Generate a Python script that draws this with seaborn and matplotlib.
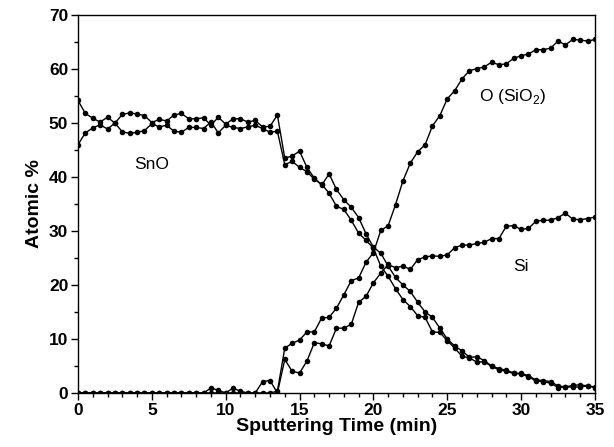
import numpy as np
import pandas as pd
import matplotlib
matplotlib.use('Agg')
import matplotlib.pyplot as plt
from matplotlib.ticker import MultipleLocator
import seaborn as sns

# sampling time (min), one point every 0.5 min
time = np.arange(0, 35.5, 0.5)

# Sn and O of the SnO layer (two curves crossing around 50 %)
sn_sno = [54.2, 51.8, 50.9, 50.2, 51.1, 50.0, 51.6, 51.9, 51.7, 51.4,
          50.1, 50.7, 50.4, 51.5, 51.8, 50.8, 50.8, 51.0, 49.6, 51.1,
          49.8, 50.8, 50.8, 50.2, 50.5, 49.3, 49.4, 51.5, 43.5, 43.9,
          44.8, 41.8, 39.8, 38.5, 40.6, 37.7, 35.8, 34.4, 32.5, 29.5,
          27.0, 25.9, 23.5, 21.4, 20.0, 18.8, 16.8, 15.0, 14.0, 12.0,
          10.0, 8.7, 7.8, 6.6, 6.7, 6.0, 5.0, 4.5, 4.2, 3.7,
          3.6, 3.2, 2.4, 2.3, 2.1, 1.3, 1.1, 1.4, 1.5, 1.3,
          1.1]
o_sno = [46.0, 48.2, 49.1, 49.7, 48.9, 50.0, 48.4, 48.1, 48.3, 48.6,
         49.9, 49.3, 49.6, 48.5, 48.3, 49.2, 49.2, 49.0, 50.2, 48.2,
         49.6, 49.2, 49.0, 49.3, 49.6, 49.0, 48.3, 48.5, 42.3, 42.9,
         41.8, 41.0, 39.6, 38.7, 37.0, 34.6, 34.0, 32.0, 29.6, 28.3,
         26.8, 23.5, 21.6, 19.3, 17.3, 16.0, 14.3, 14.0, 11.3, 11.2,
         9.7, 8.3, 6.8, 6.5, 5.7, 5.8, 4.9, 4.3, 4.0, 3.6,
         3.5, 3.0, 2.2, 2.1, 1.8, 1.0, 1.1, 1.1, 1.1, 1.3,
         1.0]

# O of the SiO2 substrate
o_sio2 = [0.0] * 27 + [0.3,
          8.3, 9.2, 9.8, 11.3, 11.3, 13.9, 14.0, 15.7, 18.2, 20.8,
          21.3, 24.2, 26.0, 30.1, 31.0, 34.9, 39.3, 42.6, 44.7, 46.0,
          49.5, 51.4, 54.5, 56.0, 58.2, 59.7, 60.1, 60.4, 61.3, 60.8,
          61.0, 62.0, 62.5, 62.8, 63.6, 63.6, 63.9, 65.2, 64.5, 65.5,
          65.4, 65.2, 65.5]

# Si
si = [0.0] * 18 + [0.9, 0.5, 0.0, 0.9, 0.3, 0.0, 0.0, 2.1, 2.3, 0.0,
      6.2, 4.0, 3.7, 5.9, 9.3, 9.1, 8.7, 12.0, 12.0, 12.7,
      16.8, 17.9, 20.4, 22.2, 23.8, 23.2, 23.5, 22.9, 24.7, 25.2,
      25.4, 25.3, 25.6, 26.9, 27.4, 27.4, 27.7, 27.9, 28.6, 28.6,
      30.9, 31.0, 30.3, 30.5, 31.8, 32.0, 32.0, 32.5, 33.3, 32.2,
      32.1, 32.3, 32.6]

sns.set_style('ticks')
plt.rcParams['font.family'] = ['Liberation Sans', 'DejaVu Sans']
plt.rcParams['mathtext.fontset'] = 'custom'
plt.rcParams['mathtext.rm'] = 'Liberation Sans'
plt.rcParams['text.color'] = 'black'
plt.rcParams['axes.labelcolor'] = 'black'
plt.rcParams['xtick.color'] = 'black'
plt.rcParams['ytick.color'] = 'black'

fig = plt.figure(figsize=(6.14, 4.47), dpi=100)
ax = fig.add_axes([0.127, 0.121, 0.842, 0.845])

for vals in [sn_sno, o_sno, o_sio2, si]:
    df = pd.DataFrame({'t': time, 'v': vals})
    sns.lineplot(data=df, x='t', y='v', ax=ax, color='black', linewidth=1,
                 marker='o', markersize=4, markeredgewidth=0)

ax.set_xlim(0, 35)
ax.set_ylim(0, 70)
ax.xaxis.set_major_locator(MultipleLocator(5))
ax.xaxis.set_minor_locator(MultipleLocator(1))
ax.yaxis.set_major_locator(MultipleLocator(10))
ax.yaxis.set_minor_locator(MultipleLocator(5))
ax.tick_params(which='major', length=5, width=1, direction='out', labelsize=12.5, pad=2)
ax.tick_params(which='minor', length=3, width=1, direction='out')
for lab in ax.get_xticklabels() + ax.get_yticklabels():
    lab.set_fontweight('bold')
for sp in ax.spines.values():
    sp.set_linewidth(1)
    sp.set_color('black')

ax.set_xlabel('Sputtering Time (min)', fontsize=14, fontweight='bold', labelpad=0)
ax.set_ylabel('Atomic %', fontsize=14, fontweight='bold', labelpad=4)

ax.text(5.0, 42.3, 'SnO', fontsize=12.5, ha='center', va='center')
ax.text(29.4, 54.9, 'O (SiO$_2$)', fontsize=12.5, ha='center', va='center')
ax.text(30.0, 23.5, 'Si', fontsize=12.5, ha='center', va='center')

fig.savefig('out.png', dpi=100)
